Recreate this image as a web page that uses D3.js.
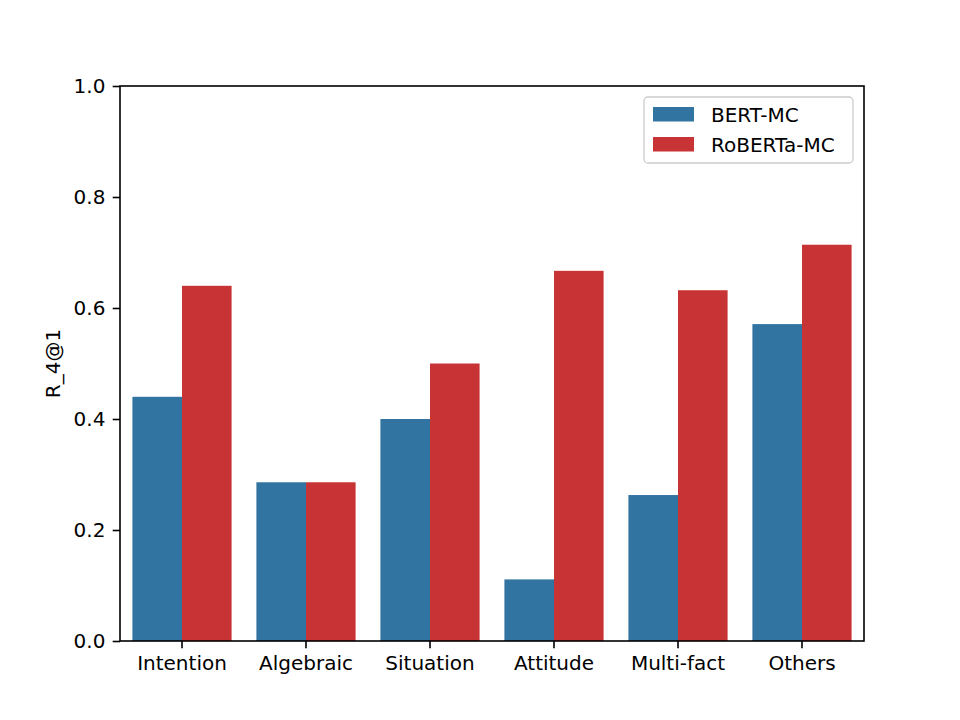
<!DOCTYPE html>
<html>
<head>
<meta charset="UTF-8">
<script src="https://d3js.org/d3.v7.min.js"></script>
<style>
  body { margin: 0; background: #fff; }
  svg text { font-family: "DejaVu Sans", sans-serif; font-size: 20px; fill: #000; }
</style>
</head>
<body>
<div id="chart"></div>
<script>
// data
const categories = ["Intention", "Algebraic", "Situation", "Attitude", "Multi-fact", "Others"];
const seriesNames = ["BERT-MC", "RoBERTa-MC"];
const bertValues = [0.44, 0.286, 0.4, 0.111, 0.263, 0.571];
const robertaValues = [0.64, 0.286, 0.5, 0.667, 0.632, 0.714];
const yTicks = [0, 0.2, 0.4, 0.6, 0.8, 1.0];
const colors = ["#3274a1", "#c83436"];

const width = 960, height = 720;
const margin = { top: 86, right: 96, bottom: 79, left: 120 };
const innerW = width - margin.left - margin.right;
const innerH = height - margin.top - margin.bottom;
const tickLen = 7.3, lw = 1.6;

const svg = d3.select("#chart").append("svg")
    .attr("width", width)
    .attr("height", height);

const g = svg.append("g").attr("transform", `translate(${margin.left},${margin.top})`);

const x = d3.scaleBand().domain(categories).range([0, innerW]).paddingInner(0.2).paddingOuter(0.1);
const xSub = d3.scaleBand().domain(seriesNames).range([0, x.bandwidth()]);
const y = d3.scaleLinear().domain([0, 1]).range([innerH, 0]);

const rows = categories.map((c, i) => ({ cat: c, vals: [bertValues[i], robertaValues[i]] }));

// bars
const grp = g.selectAll(".grp").data(rows).enter().append("g")
    .attr("transform", d => `translate(${x(d.cat)},0)`);
grp.selectAll("rect").data(d => d.vals.map((v, j) => ({ name: seriesNames[j], v, j })))
    .enter().append("rect")
    .attr("x", d => xSub(d.name))
    .attr("y", d => y(d.v))
    .attr("width", xSub.bandwidth())
    .attr("height", d => innerH - y(d.v))
    .attr("fill", d => colors[d.j]);

// axes
const yAxis = g.append("g")
    .call(d3.axisLeft(y).tickValues(yTicks).tickFormat(d3.format(".1f")).tickSize(tickLen).tickPadding(tickLen));
const xAxis = g.append("g").attr("transform", `translate(0,${innerH})`)
    .call(d3.axisBottom(x).tickSize(tickLen).tickPadding(tickLen));
[xAxis, yAxis].forEach(a => {
  a.attr("font-size", null).attr("font-family", null);
  a.select(".domain").remove();
  a.selectAll(".tick line").attr("stroke", "#000").attr("stroke-width", lw);
});

// frame
g.append("rect")
    .attr("width", innerW).attr("height", innerH)
    .attr("fill", "none").attr("stroke", "#000").attr("stroke-width", lw);

// y label
svg.append("text")
    .attr("transform", `translate(60,${margin.top + innerH / 2}) rotate(-90)`)
    .attr("text-anchor", "middle")
    .text("R_4@1");

// legend
const lg = g.append("g").attr("transform", `translate(${innerW - 220},11)`);
lg.append("rect")
    .attr("width", 209).attr("height", 66)
    .attr("rx", 4).attr("ry", 4)
    .attr("fill", "#fff").attr("fill-opacity", 0.8)
    .attr("stroke", "#cccccc").attr("stroke-width", 1.3);
seriesNames.forEach((s, i) => {
  lg.append("rect")
      .attr("x", 9).attr("y", 10 + i * 30)
      .attr("width", 41).attr("height", 14.5)
      .attr("fill", colors[i]);
  lg.append("text")
      .attr("x", 67).attr("y", 24.5 + i * 30)
      .text(s);
});
</script>
</body>
</html>
